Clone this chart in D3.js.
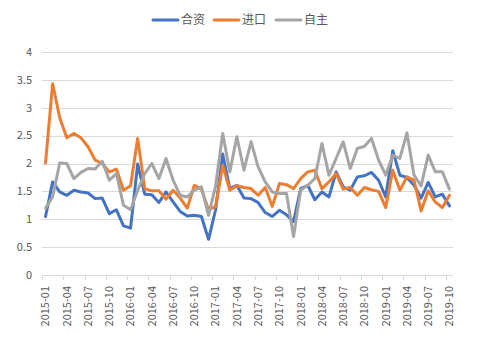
<!DOCTYPE html>
<html>
<head>
<meta charset="utf-8">
<script src="https://cdn.jsdelivr.net/npm/d3@7/dist/d3.min.js"></script>
<style>
  html, body { margin: 0; padding: 0; background: #fff; }
  svg { display: block; }
  text { font-family: "Noto Sans CJK SC", "Liberation Sans", sans-serif; }
</style>
</head>
<body>
<svg id="chart" width="497" height="341"></svg>
<script>
const categories = [
  "2015-01","2015-02","2015-03","2015-04","2015-05","2015-06","2015-07","2015-08","2015-09","2015-10","2015-11","2015-12",
  "2016-01","2016-02","2016-03","2016-04","2016-05","2016-06","2016-07","2016-08","2016-09","2016-10","2016-11","2016-12",
  "2017-01","2017-02","2017-03","2017-04","2017-05","2017-06","2017-07","2017-08","2017-09","2017-10","2017-11","2017-12",
  "2018-01","2018-02","2018-03","2018-04","2018-05","2018-06","2018-07","2018-08","2018-09","2018-10","2018-11","2018-12",
  "2019-01","2019-02","2019-03","2019-04","2019-05","2019-06","2019-07","2019-08","2019-09","2019-10"
];
const hezi = [
  1.05,1.67,1.49,1.43,1.52,1.49,1.47,1.37,1.38,1.10,1.17,0.88,
  0.84,1.99,1.45,1.44,1.30,1.49,1.31,1.14,1.06,1.07,1.05,0.64,
  1.17,2.17,1.55,1.61,1.38,1.37,1.30,1.12,1.05,1.16,1.08,0.96,
  1.55,1.61,1.35,1.49,1.40,1.85,1.58,1.52,1.76,1.78,1.84,1.70,
  1.40,2.23,1.79,1.75,1.61,1.38,1.66,1.40,1.45,1.24
];
const jinkou = [
  2.01,3.43,2.82,2.46,2.54,2.46,2.30,2.06,2.00,1.85,1.90,1.52,
  1.60,2.45,1.55,1.51,1.51,1.36,1.52,1.38,1.20,1.61,1.54,1.17,
  1.23,1.97,1.52,1.60,1.57,1.55,1.43,1.57,1.23,1.64,1.62,1.55,
  1.73,1.85,1.88,1.55,1.67,1.82,1.54,1.57,1.43,1.57,1.53,1.50,
  1.21,1.88,1.52,1.76,1.70,1.15,1.51,1.31,1.21,1.43
];
const zizhu = [
  1.20,1.40,2.01,2.00,1.73,1.84,1.91,1.90,2.04,1.70,1.82,1.25,
  1.17,1.52,1.82,2.00,1.73,2.09,1.70,1.43,1.40,1.52,1.58,1.07,
  1.60,2.54,1.85,2.48,1.88,2.39,1.94,1.67,1.49,1.46,1.46,0.69,
  1.52,1.61,1.73,2.36,1.79,2.09,2.39,1.91,2.27,2.31,2.45,2.06,
  1.79,2.15,2.09,2.55,1.79,1.60,2.15,1.85,1.85,1.54
];
const seriesNames = ["合资","进口","自主"];
const seriesColors = ["#4472C4","#ED7D31","#A5A5A5"];
const yTicks = [0,0.5,1,1.5,2,2.5,3,3.5,4];
const xTickLabels = categories.filter((d,i) => i % 3 === 0);

(function () {
const series = [hezi, jinkou, zizhu].map((v,k) => ({name: seriesNames[k], color: seriesColors[k], values: v}));

const svg = d3.select("#chart");
const pLeft = 42, pRight = 453, pTop = 52, pBottom = 275;

const x = d3.scaleBand().domain(categories).range([pLeft, pRight]).padding(0);
const y = d3.scaleLinear().domain([0, 4]).range([pBottom, pTop]);

// gridlines
svg.append("g").selectAll("line").data(yTicks.filter(d => d > 0)).join("line")
  .attr("x1", pLeft).attr("x2", pRight)
  .attr("y1", d => Math.round(y(d)) + 0.5).attr("y2", d => Math.round(y(d)) + 0.5)
  .attr("stroke", "#d9d9d9").attr("stroke-width", 1);

// y labels
svg.append("g").selectAll("text").data(yTicks).join("text")
  .attr("x", 32).attr("y", d => y(d))
  .attr("dy", "0.35em").attr("text-anchor", "end")
  .attr("font-size", 11).attr("fill", "#595959")
  .text(d => d);

// x axis line
svg.append("line").attr("x1", pLeft).attr("x2", pRight)
  .attr("y1", pBottom + 0.5).attr("y2", pBottom + 0.5)
  .attr("stroke", "#d9d9d9").attr("stroke-width", 1);

// tick marks at category boundaries every 3
svg.append("g").selectAll("line").data(xTickLabels).join("line")
  .attr("x1", d => Math.round(x(d)) + 0.5).attr("x2", d => Math.round(x(d)) + 0.5)
  .attr("y1", pBottom).attr("y2", pBottom + 5)
  .attr("stroke", "#d9d9d9").attr("stroke-width", 1);

// x labels
svg.append("g").selectAll("text").data(xTickLabels).join("text")
  .attr("transform", d => `translate(${x(d) + x.bandwidth()/2},${pBottom + 11}) rotate(-90)`)
  .attr("dy", "0.35em").attr("text-anchor", "end")
  .attr("font-size", 11).attr("fill", "#595959")
  .text(d => d);

// lines
const line = d3.line()
  .x((d,i) => x(categories[i]) + x.bandwidth()/2)
  .y(d => y(d));
svg.append("g").selectAll("path").data(series).join("path")
  .attr("d", s => line(s.values))
  .attr("fill", "none")
  .attr("stroke", s => s.color)
  .attr("stroke-width", 3)
  .attr("stroke-linejoin", "round")
  .attr("stroke-linecap", "round");

// legend
const legendX = [153, 214, 276];
const lg = svg.append("g").selectAll("g").data(series).join("g")
  .attr("transform", (d,i) => `translate(${legendX[i]},20)`);
lg.append("line").attr("x1", 0).attr("x2", 25).attr("y1", 0).attr("y2", 0)
  .attr("stroke", d => d.color).attr("stroke-width", 3).attr("stroke-linecap", "round");
lg.append("text").attr("x", 28).attr("y", 0).attr("dy", "0.35em")
  .attr("font-size", 12).attr("fill", "#595959")
  .text(d => d.name);
})();
</script>
</body>
</html>
